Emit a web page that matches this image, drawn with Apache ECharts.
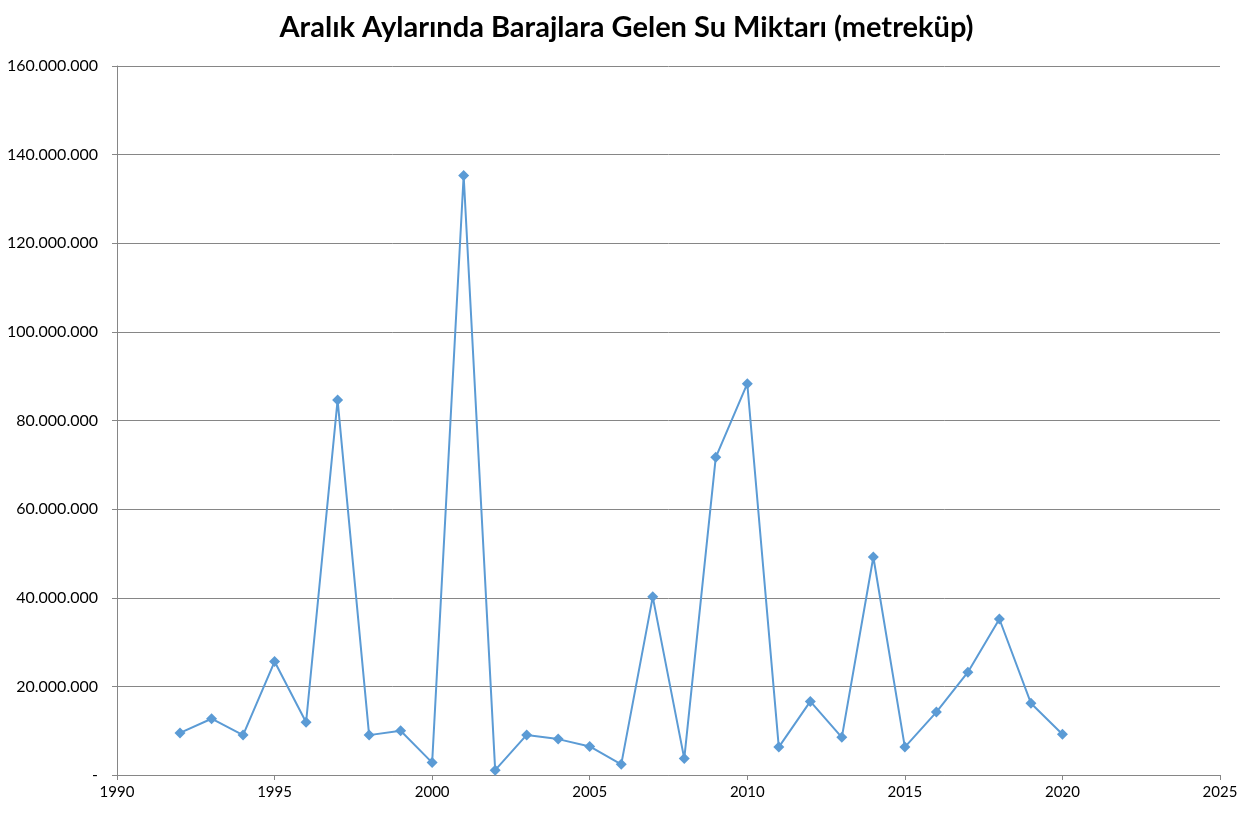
<!DOCTYPE html>
<html>
<head>
<meta charset="utf-8">
<script src="https://cdn.jsdelivr.net/npm/echarts@6/dist/echarts.min.js"></script>
<style>
  html, body { margin: 0; padding: 0; background: #fff; }
  #chart { width: 1253px; height: 815px; }
</style>
</head>
<body>
<div id="chart"></div>
<script>
// yıllar ve aralık ayı su miktarları (m3)
var years = [1992, 1993, 1994, 1995, 1996, 1997, 1998, 1999, 2000, 2001,
    2002, 2003, 2004, 2005, 2006, 2007, 2008, 2009, 2010, 2011,
    2012, 2013, 2014, 2015, 2016, 2017, 2018, 2019, 2020];
var values = [9500000, 12700000, 9000000, 25600000, 11900000, 84600000, 9000000, 10000000, 2800000, 135300000,
    1100000, 9050000, 8100000, 6450000, 2400000, 40200000, 3700000, 71700000, 88300000, 6300000,
    16600000, 8500000, 49200000, 6300000, 14200000, 23200000, 35200000, 16200000, 9200000];
var titleText = "Aralık Aylarında Barajlara Gelen Su Miktarı (metreküp)";

(function() {
    var myChart = echarts.init(document.getElementById("chart"));
    var data = years.map(function(y, i) { return [y, values[i]]; });
    var axisGray = "#868686";

    function fmt(v) {
        if (v === 0) return "-";
        return String(v).replace(/\B(?=(\d{3})+(?!\d))/g, ".");
    }

    var option = {
        animation: false,
        title: {
            text: titleText,
            left: "center",
            top: 8,
            textStyle: {
                fontFamily: "Lato",
                fontWeight: "bold",
                fontSize: 29,
                color: "#000"
            }
        },
        grid: {
            left: 117,
            right: 33,
            top: 66,
            bottom: 40
        },
        xAxis: {
            type: "value",
            min: 1990,
            max: 2025,
            interval: 5,
            axisLine: { lineStyle: { color: axisGray, width: 1 } },
            axisTick: { show: true, length: 5, inside: false, lineStyle: { color: axisGray } },
            splitLine: { show: false },
            axisLabel: {
                color: "#000",
                fontFamily: "Lato",
                fontSize: 15,
                margin: 10,
                formatter: function(v) { return String(v); }
            }
        },
        yAxis: {
            type: "value",
            min: 0,
            max: 160000000,
            interval: 20000000,
            axisLine: { show: true, lineStyle: { color: axisGray, width: 1 } },
            axisTick: { show: true, length: 5, lineStyle: { color: axisGray } },
            splitLine: { show: true, lineStyle: { color: axisGray, width: 1 } },
            axisLabel: {
                color: "#000",
                fontFamily: "Lato",
                fontSize: 16,
                margin: 19,
                formatter: fmt
            }
        },
        series: [{
            type: "line",
            data: data,
            symbol: "diamond",
            symbolSize: 11,
            lineStyle: { color: "#5B9BD5", width: 2 },
            itemStyle: { color: "#5B9BD5" }
        }]
    };
    myChart.setOption(option);
}());
</script>
</body>
</html>
